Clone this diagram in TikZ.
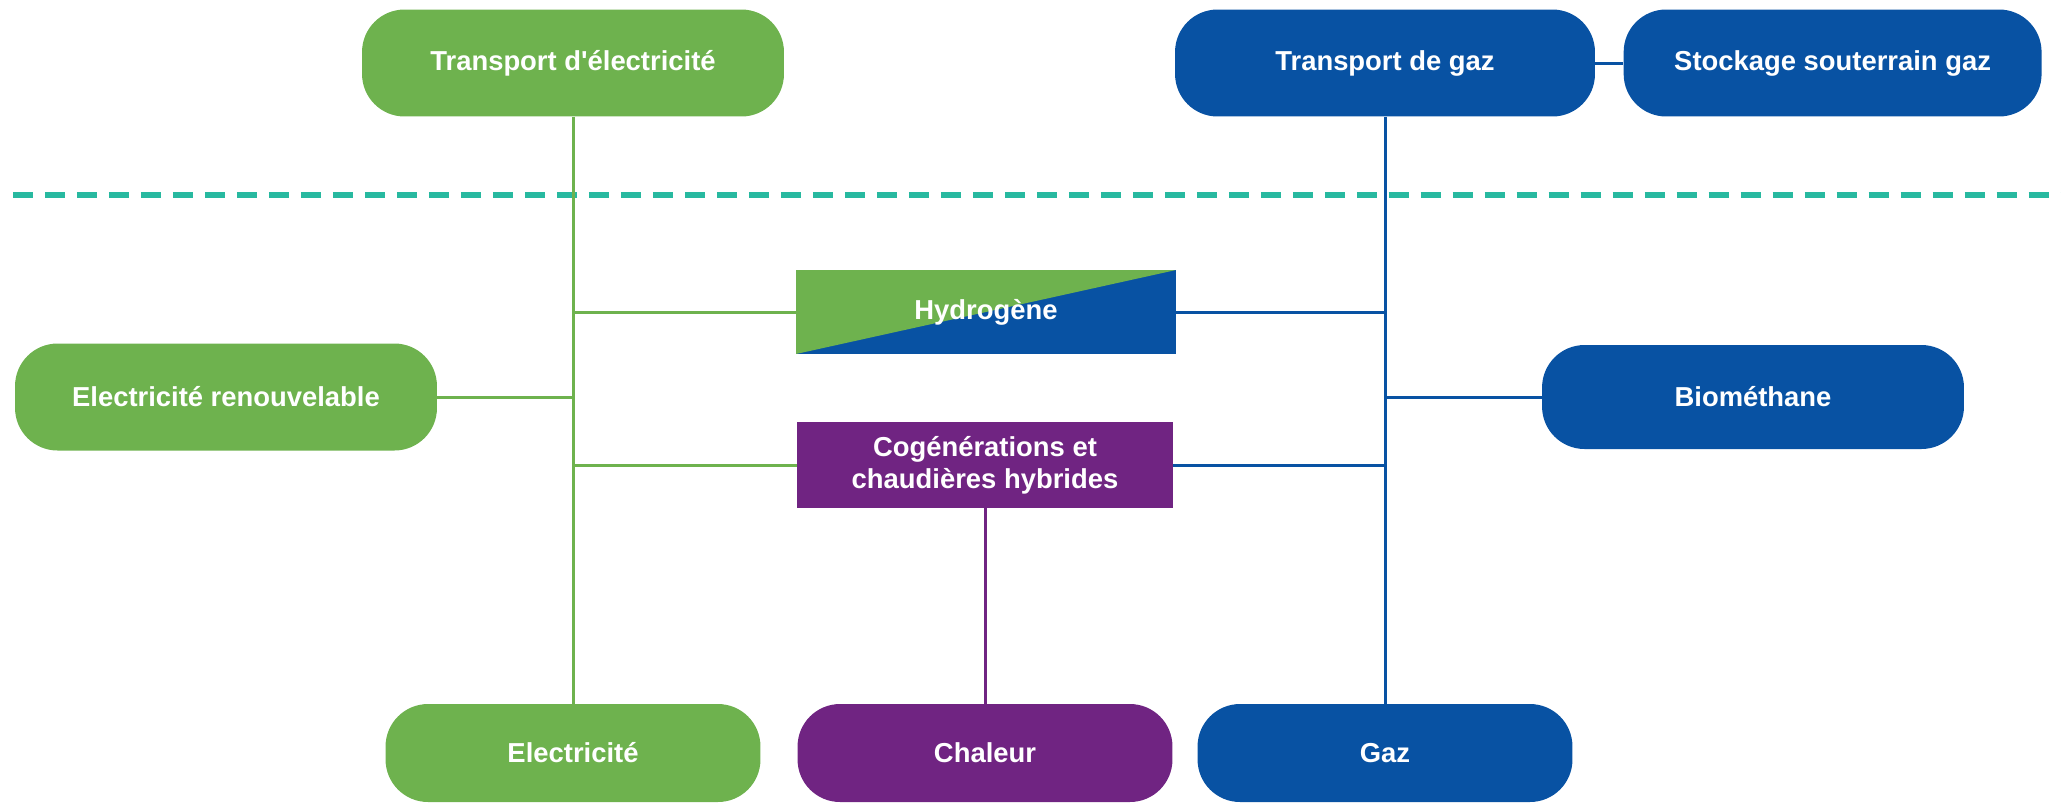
\documentclass[tikz,border=0pt]{standalone}
\usepackage{fontspec}
\setmainfont{Liberation Sans}
\usepackage{tikz}
\usetikzlibrary{positioning}

\definecolor{elgreen}{RGB}{110,178,78}
\definecolor{gasblue}{RGB}{8,82,163}
\definecolor{heatpurple}{RGB}{112,36,130}
\definecolor{septeal}{RGB}{40,185,160}

\begin{document}
\begin{tikzpicture}[x=0.02cm,y=-0.02cm,
  font=\fontsize{15.6}{18.2}\selectfont\bfseries,
  pill/.style={text=white,inner sep=0pt,rounded corners=0.85cm,minimum width=8.44cm,minimum height=2.14cm},
  lowpill/.style={pill,minimum width=7.5cm,minimum height=1.96cm},
  box/.style={text=white,inner sep=0pt,align=center,minimum width=7.6cm,minimum height=1.7cm},
  link/.style={line width=1.7pt}]
  \useasboundingbox (0,0) rectangle (2061,806);
  % upper level
  \node[pill,fill=elgreen] (telec) at (573,63) {Transport d\textquotesingle électricité};
  \node[pill,fill=gasblue,minimum width=8.4cm] (tgaz) at (1385,63) {Transport de gaz};
  \node[pill,fill=gasblue,minimum width=8.36cm,right=5.6mm of tgaz] (stock) {Stockage souterrain gaz};
  \coordinate (sepl) at (13,195);
  \coordinate (sepr) at (2061,195);
  \draw[septeal,line width=3pt,dash pattern=on 0.4cm off 0.24cm] (sepl) -- (sepr);
  % lower level
  \node[pill,fill=elgreen] (elecren) at (226,397) {Electricité renouvelable};
  \node[pill,fill=gasblue,minimum height=2.08cm] (bio) at (1753,397) {Biométhane};
  \node[box,fill=gasblue,minimum height=1.68cm,
    path picture={\fill[elgreen] (path picture bounding box.north west) -- (path picture bounding box.south west) -- (path picture bounding box.north east) -- cycle;}]
    (hydro) at (986,312) {Hydrogène};
  \node[box,fill=heatpurple,minimum width=7.52cm,minimum height=1.72cm] (cogen) at (985,465) {Cogénérations et\\chaudières hybrides};
  \node[lowpill,fill=elgreen] (elec) at (573,753) {Electricité};
  \node[lowpill,fill=heatpurple] (chaleur) at (985,753) {Chaleur};
  \node[lowpill,fill=gasblue] (gaz) at (1385,753) {Gaz};
  % links
  \draw[link,elgreen] (telec) -- (elec);
  \draw[link,elgreen] (elecren) -- (elecren -| telec);
  \draw[link,elgreen] (hydro) -- (hydro -| telec);
  \draw[link,elgreen] (cogen) -- (cogen -| telec);
  \draw[link,gasblue] (tgaz) -- (gaz);
  \draw[link,gasblue] (tgaz) -- (stock);
  \draw[link,gasblue] (hydro) -- (hydro -| tgaz);
  \draw[link,gasblue] (cogen) -- (cogen -| tgaz);
  \draw[link,gasblue] (bio) -- (bio -| tgaz);
  \draw[link,heatpurple] (cogen) -- (chaleur);
\end{tikzpicture}
\end{document}
